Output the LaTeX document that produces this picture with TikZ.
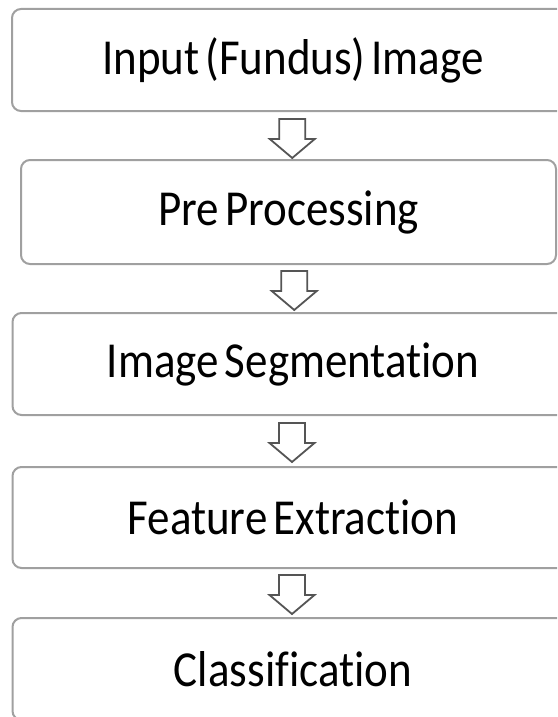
\documentclass[tikz,border=0pt]{standalone}
\usepackage{fontspec}
\setmainfont{Carlito}[Ligatures=CommonOff, WordSpace=0.6]
\usetikzlibrary{calc}
\definecolor{boxgray}{RGB}{160,160,160}
\definecolor{arrowgray}{RGB}{85,85,85}
\newcommand{\stagelabel}[1]{\scalebox{1}[1.12]{#1}}
\tikzset{
  stage/.style={draw=boxgray, line width=2pt, rounded corners=9pt, fill=white,
    minimum height=102pt, inner sep=0pt, text=black,
    font=\fontsize{45}{54}\selectfont},
  arrowline/.style={draw=arrowgray, fill=white, line width=1.8pt, line join=miter},
  pics/downarrow/.style={code={
    \path[arrowline] (-13,-19.5) -- (13,-19.5) -- (13,0.5) -- (22.5,0.5)
      -- (0,19.5) -- (-22.5,0.5) -- (-13,0.5) -- cycle;}}
}
\begin{document}
\begin{tikzpicture}[x=1pt, y=-1pt]
  \clip (0,0) rectangle (557,717);
  \fill[white] (0,0) rectangle (557,717);
  % processing stages, top to bottom
  \node[stage, minimum width=562pt] (b1) at (293,60)    {\stagelabel{Input (Fundus) Image}};
  \node[stage, minimum width=535pt, minimum height=104pt] (b2) at (288.5,212) {\stagelabel{Pre Processing}};
  \node[stage, minimum width=561pt] (b3) at (293,364)   {\stagelabel{Image Segmentation}};
  \node[stage, minimum width=561pt, minimum height=101pt] (b4) at (293,517.5) {\stagelabel{Feature Extraction}};
  \node[stage, minimum width=561pt] (b5) at (293,669)   {\stagelabel{Classification}};
  % hollow block arrows between consecutive stages
  \path ($(b1.south)!0.5!(b2.north)$) ++(1.5,3) pic {downarrow};
  \path ($(b2.south)!0.5!(b3.north)$) ++(3.5,2) pic {downarrow};
  \path ($(b3.south)!0.5!(b4.north)$) ++(-1,1.5) pic {downarrow};
  \path ($(b4.south)!0.5!(b5.north)$) ++(-1,1.5) pic {downarrow};
\end{tikzpicture}
\end{document}
